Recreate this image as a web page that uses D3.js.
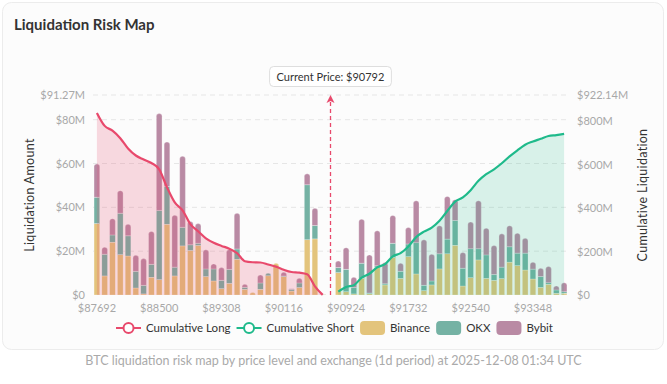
<!DOCTYPE html>
<html>
<head>
<meta charset="utf-8">
<script src="https://cdn.jsdelivr.net/npm/d3@7/dist/d3.min.js"></script>
<style>
  html, body { margin: 0; padding: 0; background: #fff; }
  svg { display: block; font-family: Lato, "Open Sans", sans-serif; }
</style>
</head>
<body>
<svg id="chart" width="667" height="384"></svg>
<script>
// price levels (category axis)
const prices = [
  87692, 87793, 87894, 87995, 88096, 88197, 88298, 88399, 88500, 88601,
  88702, 88803, 88904, 89005, 89106, 89207, 89308, 89409, 89510, 89611,
  89712, 89813, 89914, 90015, 90116, 90217, 90318, 90419, 90520, 90621,
  90722, 90823, 90924, 91025, 91126, 91227, 91328, 91429, 91530, 91631,
  91732, 91833, 91934, 92035, 92136, 92237, 92338, 92439, 92540, 92641,
  92742, 92843, 92944, 93045, 93146, 93247, 93348, 93449, 93550, 93651,
  93752
];

// liquidation amount per level, $M
const binance = [
  32.6, 8.7, 24.1, 18.4, 17.8, 3.2, 0.5, 8.1, 7.0, 32.3,
  8.7, 22.4, 20.3, 22.6, 8.4, 6.4, 2.9, 5.3, 16.3, 2.6,
  1.1, 2.6, 8.8, 14.5, 8.4, 1.8, 3.4, 25.2, 25.6, 0.3,
  0, 10.2, 1.5, 0.5, 7.6, 0.6, 12.5, 4.6, 17.1, 7.6,
  17.5, 9.6, 2.0, 4.6, 11.9, 18.8, 22.7, 4.1, 7.9, 16.0,
  7.6, 6.7, 7.5, 15.0, 13.4, 11.4, 7.3, 3.5, 4.9, 0.8,
  0.8
];
const okx = [
  12.0, 9.9, 3.3, 18.9, 9.2, 7.6, 3.9, 5.9, 31.6, 17.2,
  4.0, 8.5, 2.6, 1.0, 3.5, 5.5, 3.8, 6.4, 4.7, 0.9,
  0, 2.9, 1.1, 0, 0.3, 0.8, 2.1, 25.1, 6.1, 0.1,
  0, 2.3, 10.2, 2.9, 6.9, 0.3, 0.8, 0.5, 6.5, 3.2,
  5.8, 14.3, 2.4, 1.8, 6.9, 6.7, 11.3, 8.1, 13.2, 5.1,
  10.7, 2.6, 5.2, 7.0, 5.7, 7.7, 4.5, 4.9, 0.7, 1.5,
  0.7
];
const bybit = [
  15.2, 3.2, 7.4, 10.3, 5.3, 7.3, 12.2, 15.0, 44.2, 20.3,
  23.7, 32.4, 10.6, 9.0, 8.7, 2.3, 5.8, 9.0, 16.3, 1.4,
  0, 3.6, 0, 0, 1.7, 0.3, 2.1, 5.0, 7.9, 0.1,
  0, 3.0, 9.9, 4.7, 20.1, 17.4, 16.0, 9.7, 12.7, 3.7,
  7.5, 19.1, 20.8, 12.2, 12.8, 19.5, 9.5, 7.2, 12.2, 21.9,
  12.2, 13.3, 15.2, 9.6, 9.1, 6.8, 3.2, 3.8, 7.4, 1.8,
  4.1
];

// cumulative liquidation, $M (right axis)
const cumLong = [
  839.6, 779.7, 757.9, 723.1, 675.5, 643.2, 625.1, 608.5, 579.5, 496.7,
  426.9, 390.5, 327.2, 293.7, 261.1, 240.5, 226.3, 213.8, 193.1, 155.8,
  150.9, 149.8, 140.7, 130.8, 116.3, 105.9, 103.0, 95.4, 40.1, 0.5,
  null, null, null, null, null, null, null, null, null, null,
  null, null, null, null, null, null, null, null, null, null,
  null, null, null, null, null, null, null, null, null, null,
  null
];
const cumShort = [
  null, null, null, null, null, null, null, null, null, null,
  null, null, null, null, null, null, null, null, null, null,
  null, null, null, null, null, null, null, null, null, null,
  null, 15.5, 37.1, 45.2, 79.8, 98.1, 127.4, 142.2, 178.5, 193.0,
  223.8, 266.8, 292.0, 310.6, 342.2, 387.2, 430.7, 450.1, 483.4, 526.4,
  556.9, 579.5, 607.4, 639.0, 667.2, 693.1, 708.1, 720.3, 733.3, 737.4,
  743.0
];

const currentPrice = 90792;
const leftTicks = [0, 20, 40, 60, 80];
const rightTicks = [0, 200, 400, 600, 800];
const leftMax = 91.27;
const rightMax = 922.14;
const exchanges = ["Binance", "OKX", "Bybit"];
const exchangeColors = ["#e3c47c", "#75b2a4", "#b98aa4"];

const longColor = "#e8496c";
const shortColor = "#1fba8b";

const svg = d3.select("#chart");
const W = 667, H = 384;
const plot = { left: 93, right: 568, top: 95, bottom: 295 };

// card
svg.append("rect")
  .attr("x", 2.5).attr("y", 2.5)
  .attr("width", W - 6).attr("height", 347)
  .attr("rx", 9)
  .attr("fill", "#fcfcfc")
  .attr("stroke", "#ececec");

svg.append("text")
  .attr("x", 14).attr("y", 30)
  .style("font-weight", 700)
  .style("font-size", "15px")
  .attr("fill", "#333")
  .text("Liquidation Risk Map");

const x = d3.scaleBand()
  .domain(prices)
  .range([plot.left, plot.right])
  .paddingInner(0.27)
  .paddingOuter(0.135);
const bw = x.bandwidth();
const cx = p => x(p) + bw / 2;

const yL = d3.scaleLinear().domain([0, leftMax]).range([plot.bottom, plot.top]);
const yR = d3.scaleLinear().domain([0, rightMax]).range([plot.bottom, plot.top]);

// grid
const grid = svg.append("g");
leftTicks.concat([leftMax]).forEach(t => {
  if (t === 0) return;
  grid.append("line")
    .attr("x1", plot.left).attr("x2", plot.right)
    .attr("y1", yL(t)).attr("y2", yL(t))
    .attr("stroke", "#e6e6e6")
    .attr("stroke-dasharray", "5,4");
});

// axis labels
const fmtM = v => v === 0 ? "$0" : "$" + v + "M";
const axisText = "#a8a8a8";
leftTicks.concat([leftMax]).forEach(t => {
  svg.append("text")
    .attr("x", plot.left - 8).attr("y", yL(t) + 4)
    .attr("text-anchor", "end")
    .style("font-size", "11px")
    .attr("fill", axisText)
    .text(fmtM(t));
});
rightTicks.concat([rightMax]).forEach(t => {
  svg.append("text")
    .attr("x", plot.right + 9).attr("y", yR(t) + 4)
    .attr("text-anchor", "start")
    .style("font-size", "11px")
    .attr("fill", axisText)
    .text(fmtM(t));
});

prices.forEach((p, i) => {
  if (i % 8 !== 0) return;
  svg.append("text")
    .attr("x", cx(p)).attr("y", 312)
    .attr("text-anchor", "middle")
    .style("font-size", "11px")
    .attr("fill", axisText)
    .text("$" + p);
});

// axis titles
svg.append("text")
  .attr("transform", `translate(34,${(plot.top + plot.bottom) / 2}) rotate(-90)`)
  .attr("text-anchor", "middle")
  .style("font-size", "12.5px")
  .style("letter-spacing", "0.3px")
  .attr("fill", "#333")
  .text("Liquidation Amount");
svg.append("text")
  .attr("transform", `translate(647,${(plot.top + plot.bottom) / 2}) rotate(-90)`)
  .attr("text-anchor", "middle")
  .style("font-size", "12.5px")
  .style("letter-spacing", "0.3px")
  .attr("fill", "#333")
  .text("Cumulative Liquidation");

// stacked bars
const series = [binance, okx, bybit];
function topRounded(x0, y0, w, h, r) {
  r = Math.min(r, h, w / 2);
  return `M${x0},${y0 + h}V${y0 + r}Q${x0},${y0} ${x0 + r},${y0}H${x0 + w - r}Q${x0 + w},${y0} ${x0 + w},${y0 + r}V${y0 + h}Z`;
}
const bars = svg.append("g");
prices.forEach((p, i) => {
  let base = 0;
  let lastNonZero = -1;
  series.forEach((s, k) => { if (s[i] > 0) lastNonZero = k; });
  series.forEach((s, k) => {
    const v = s[i];
    if (!(v > 0)) return;
    const y0 = yL(base + v), y1 = yL(base);
    const h = y1 - y0;
    if (k === lastNonZero) {
      bars.append("path")
        .attr("d", topRounded(x(p), y0, bw, h, 2.8))
        .attr("fill", exchangeColors[k])
        .attr("stroke", "rgba(255,255,255,0.55)")
        .attr("stroke-width", 0.5);
    } else {
      bars.append("rect")
        .attr("x", x(p)).attr("y", y0)
        .attr("width", bw).attr("height", h)
        .attr("fill", exchangeColors[k])
        .attr("stroke", "rgba(255,255,255,0.55)")
        .attr("stroke-width", 0.5);
    }
    base += v;
  });
});

// cumulative areas + lines
const idx = d3.range(prices.length);
function drawCum(values, color, opacity) {
  const area = d3.area()
    .defined(i => values[i] != null)
    .x(i => cx(prices[i]))
    .y0(yR(0))
    .y1(i => yR(values[i]))
    .curve(d3.curveMonotoneX);
  const line = d3.line()
    .defined(i => values[i] != null)
    .x(i => cx(prices[i]))
    .y(i => yR(values[i]))
    .curve(d3.curveMonotoneX);
  svg.append("path")
    .attr("d", area(idx))
    .attr("fill", color)
    .attr("fill-opacity", opacity);
  svg.append("path")
    .attr("d", line(idx))
    .attr("fill", "none")
    .attr("stroke", color)
    .attr("stroke-width", 2.2)
    .attr("stroke-linejoin", "round");
}
drawCum(cumLong, longColor, 0.2);
drawCum(cumShort, shortColor, 0.16);

// current price marker
const pIdx = d3.bisectRight(prices, currentPrice) - 1;
const px = cx(prices[pIdx]);
svg.append("line")
  .attr("x1", px).attr("x2", px)
  .attr("y1", plot.bottom).attr("y2", plot.top + 3)
  .attr("stroke", longColor)
  .attr("stroke-width", 1.3)
  .attr("stroke-dasharray", "4,3");
svg.append("path")
  .attr("d", `M${px - 4},${plot.top + 8}L${px},${plot.top}L${px + 4},${plot.top + 8}L${px},${plot.top + 6}Z`)
  .attr("fill", longColor);

const lbl = svg.append("g");
const lblText = lbl.append("text")
  .attr("x", px).attr("y", 80.5)
  .attr("text-anchor", "middle")
  .style("font-size", "11px")
  .attr("fill", "#333")
  .text("Current Price: $" + currentPrice);
const tw = lblText.node().getComputedTextLength();
lbl.insert("rect", "text")
  .attr("x", px - tw / 2 - 7).attr("y", 66.5)
  .attr("width", tw + 14).attr("height", 20)
  .attr("rx", 4)
  .attr("fill", "#fff")
  .attr("stroke", "#dedede");

// legend
const legendItems = [
  { name: "Cumulative Long", type: "line", color: longColor },
  { name: "Cumulative Short", type: "line", color: shortColor },
  ...exchanges.map((e, k) => ({ name: e, type: "rect", color: exchangeColors[k] }))
];
const legend = svg.append("g");
let lx = 0;
const ly = 328;
const gap = 6;
legendItems.forEach(it => {
  const g = legend.append("g").attr("transform", `translate(${lx},0)`);
  if (it.type === "line") {
    g.append("line").attr("x1", 0).attr("x2", 25).attr("y1", ly).attr("y2", ly)
      .attr("stroke", it.color).attr("stroke-width", 2);
    g.append("circle").attr("cx", 12.5).attr("cy", ly).attr("r", 5)
      .attr("fill", "#fff").attr("stroke", it.color).attr("stroke-width", 2);
  } else {
    g.append("rect").attr("x", 0).attr("y", ly - 7).attr("width", 25).attr("height", 14)
      .attr("rx", 4).attr("fill", it.color);
  }
  const t = g.append("text").attr("x", 30).attr("y", ly + 4)
    .style("font-size", "11.5px")
    .attr("fill", "#333").text(it.name);
  lx += 30 + t.node().getComputedTextLength() + gap;
});
const lw = lx - gap;
legend.attr("transform", `translate(${334.5 - lw / 2},0)`);

// caption
svg.append("text")
  .attr("x", W / 2).attr("y", 365)
  .attr("text-anchor", "middle")
  .style("font-size", "12.5px")
  .attr("fill", "#aaa")
  .text("BTC liquidation risk map by price level and exchange (1d period) at 2025-12-08 01:34 UTC");
</script>
</body>
</html>
